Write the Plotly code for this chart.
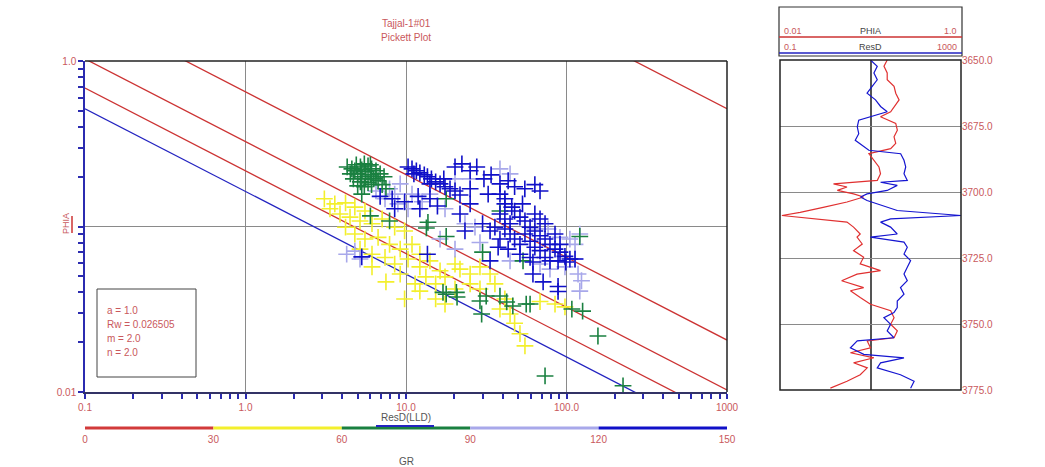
import numpy as np
import plotly.graph_objects as go

W, H = 1045, 467


def px(x):
    return x / W


def py(y):
    return 1 - y / H


# ---------------- data ----------------
title_lines = ["Tajjal-1#01", "Pickett Plot"]

# Pickett parameters
a_param = 1.0
rw_param = 0.026505
m_param = 2.0
n_param = 2.0
sw_values = [1.0, 0.75, 0.5, 0.25, 0.01]

x_ticks = [0.1, 1, 10, 100, 1000]
x_ticktext = ["0.1", "1.0", "10.0", "100.0", "1000"]
y_ticks = [0.01, 0.1, 1.0]
y_ticktext = ["0.01", "", "1.0"]

gr_edges = [0, 30, 60, 90, 120, 150]
gr_labels = ["0", "30", "60", "90", "120", "150"]

# Scatter points grouped by GR bin (ResD, PHIA)
yellow_resd = [3.6, 4.2, 4.8, 5.55, 3.88, 4.48, 5.17, 6.14, 7.1, 8.5, 9.8, 4.2, 4.8, 5.55, 6.7, 7.9,
               9.2, 10.9, 12.2, 5.17, 6.14, 7.4, 8.5, 10.3, 12.2, 14.1, 16.3, 13.3, 15.3, 17.5, 21.7,
               25.1, 28.9, 33.4, 35.8, 25.1, 11.4, 7.5, 6.14, 9.2, 20.2, 12.2, 9.8, 41.3, 44.5, 47.5,
               51.3, 55.1, 68.4, 84.8, 97.8, 38.5, 28.9, 20.2, 15.3, 17.5, 3.36, 3.1]
yellow_phia = [0.137, 0.139, 0.131, 0.124, 0.119, 0.114, 0.108, 0.104, 0.111, 0.099, 0.094, 0.099,
               0.090, 0.084, 0.086, 0.078, 0.073, 0.078, 0.068, 0.073, 0.068, 0.065, 0.0593, 0.0636,
               0.057, 0.062, 0.054, 0.0496, 0.045, 0.0496, 0.0553, 0.0516, 0.057, 0.0516, 0.045, 0.045,
               0.045, 0.0463, 0.057, 0.0516, 0.0593, 0.0407, 0.0365, 0.0365, 0.0296, 0.026, 0.0225,
               0.019, 0.0352, 0.034, 0.0327, 0.0317, 0.0419, 0.0419, 0.0365, 0.034, 0.128, 0.147]

purple_resd = [7.9, 8.5, 9.2, 7.4, 10.9, 12.6, 10.3, 6.5, 8.9, 14.1, 20.2, 25.1, 23.3, 26.9, 17.5,
               38.5, 44.5, 63.5, 76.8, 91.1, 105, 113, 121, 113, 118, 124, 121, 97.8, 78.9, 68.4,
               44.5, 4.27, 4.8, 5.17, 16.3, 28.9, 20.2]
purple_phia = [0.169, 0.157, 0.181, 0.147, 0.157, 0.141, 0.128, 0.164, 0.137, 0.157, 0.194, 0.194,
               0.104, 0.099, 0.128, 0.223, 0.208, 0.0966, 0.0966, 0.086, 0.084, 0.078, 0.090, 0.0636,
               0.0516, 0.047, 0.0407, 0.057, 0.0553, 0.0593, 0.062, 0.068, 0.071, 0.0636, 0.084,
               0.080, 0.073]

green_resd = [4.6, 4.9, 5.2, 5.5, 5.8, 6.1, 6.5, 6.9, 5.0, 5.3, 5.6, 6.0, 6.3, 4.7, 5.2, 5.8, 6.7,
              7.3, 4.5, 5.0, 5.5, 6.1, 7.1, 7.5, 5.3, 4.8, 5.6, 6.5, 4.3, 6.0,
              5.3, 6.0, 7.9, 13.7, 13.4, 17.8, 17.8, 30.0, 38.5, 53.6, 121, 17.0, 20.6, 17.8, 20.8,
              28.9, 29.6, 31.6, 38.5, 42.4, 46.3, 56.1, 59.3, 108, 126, 157, 73.5, 225]
green_phia = [0.223, 0.236, 0.229, 0.239, 0.232, 0.223, 0.217, 0.208, 0.208, 0.200, 0.214, 0.205,
              0.194, 0.194, 0.186, 0.184, 0.189, 0.200, 0.208, 0.176, 0.174, 0.179, 0.179, 0.169,
              0.220, 0.217, 0.194, 0.200, 0.229, 0.236,
              0.157, 0.116, 0.108, 0.106, 0.098, 0.147, 0.087, 0.070, 0.124, 0.062, 0.087, 0.040,
              0.040, 0.039, 0.0375, 0.0355, 0.0296, 0.038, 0.038, 0.035, 0.0331, 0.034, 0.034,
              0.0317, 0.0308, 0.0218, 0.0125, 0.0109]

blue_resd = [10.3, 10.9, 11.6, 12.2, 13.0, 13.6, 14.4, 15.3, 16.3, 17.5, 18.8, 20.2, 21.7, 11.2,
             14.1, 17.2, 20.2, 22.3, 25.1, 27.6, 30.6, 33.9, 38.5, 43.3, 47.5, 55, 63.5, 68.4, 38.5,
             32.5, 25.1, 6.9, 8.2, 9.8, 11.9, 14.1, 15.7, 8.5, 12.2, 21.7, 25.1, 30.0, 33.4, 41.3,
             23.3, 38.5, 41.3, 44.5, 47.5, 51.3, 55.1, 59.3, 63.5, 68.4, 73.5, 78.9, 84.8, 91.1,
             97.8, 105, 44.5, 47.5, 51.3, 55.1, 59.3, 63.5, 68.4, 41.3, 38.5, 35.8, 51.3, 59.3,
             73.5, 78.9, 88.6, 45.6, 53.2, 63.5, 73.5, 84.8, 68.4, 91.1, 99, 113, 43.3, 37.5, 13.6,
             33.4, 61.8, 71.5, 88.6, 88.6, 61.8, 5.3, 41.3]
blue_phia = [0.229, 0.223, 0.217, 0.211, 0.205, 0.200, 0.194, 0.186, 0.181, 0.174, 0.169, 0.164,
             0.155, 0.208, 0.181, 0.194, 0.229, 0.239, 0.217, 0.229, 0.194, 0.205, 0.181, 0.189,
             0.174, 0.169, 0.179, 0.164, 0.157, 0.157, 0.169, 0.152, 0.147, 0.141, 0.152, 0.147,
             0.133, 0.128, 0.128, 0.119, 0.137, 0.104, 0.094, 0.137, 0.094, 0.119, 0.111, 0.104,
             0.124, 0.114, 0.108, 0.099, 0.094, 0.088, 0.084, 0.078, 0.073, 0.070, 0.066, 0.0636,
             0.090, 0.084, 0.078, 0.090, 0.0815, 0.075, 0.0715, 0.0966, 0.084, 0.099, 0.068, 0.065,
             0.065, 0.062, 0.062, 0.131, 0.137, 0.119, 0.104, 0.090, 0.111, 0.078, 0.061, 0.0636,
             0.073, 0.075, 0.068, 0.062, 0.0516, 0.0463, 0.0434, 0.0405, 0.061, 0.0655, 0.147]

# Depth track curves
phia_depth = [3650.0, 3652.4, 3654.9, 3657.5, 3660.0, 3662.6, 3665.1, 3667.6, 3669.6, 3671.5,
              3674.0, 3676.6, 3679.1, 3681.6, 3683.6, 3685.5, 3688.0, 3690.5, 3693.1, 3695.6,
              3696.9, 3698.1, 3699.4, 3700.7, 3701.9, 3703.8, 3705.8, 3707.7, 3708.9, 3710.2,
              3711.4, 3713.3, 3715.9, 3717.1, 3719.7, 3722.2, 3724.7, 3727.2, 3729.8, 3731.1,
              3733.6, 3736.2, 3737.4, 3740.0, 3742.5, 3745.0, 3747.6, 3750.1, 3752.6, 3755.2,
              3756.4, 3759.0, 3760.9, 3762.8, 3764.7, 3766.6, 3769.2, 3771.7, 3774.3]
phia_curve = [0.153, 0.141, 0.153, 0.153, 0.182, 0.190, 0.207, 0.182, 0.167, 0.129,
              0.190, 0.198, 0.182, 0.190, 0.167, 0.096, 0.109, 0.124, 0.129, 0.119,
              0.039, 0.055, 0.043, 0.065, 0.084, 0.055, 0.030, 0.0167, 0.0105, 0.0255,
              0.055, 0.065, 0.077, 0.071, 0.081, 0.065, 0.084, 0.077, 0.129, 0.071,
              0.048, 0.084, 0.060, 0.077, 0.100, 0.167, 0.182, 0.167, 0.198, 0.182,
              0.092, 0.100, 0.060, 0.109, 0.065, 0.092, 0.077, 0.055, 0.036]

resd_depth = [3650.0, 3652.4, 3654.9, 3657.5, 3660.0, 3662.6, 3665.1, 3667.6, 3669.6, 3671.5,
              3672.8, 3675.3, 3677.9, 3680.4, 3682.9, 3684.2, 3685.5, 3688.0, 3690.5, 3693.1,
              3695.6, 3696.3, 3697.5, 3699.4, 3700.7, 3701.9, 3703.2, 3705.8, 3707.0, 3708.9,
              3709.6, 3710.2, 3711.4, 3713.3, 3715.9, 3717.1, 3719.0, 3720.9, 3723.5, 3726.0,
              3728.5, 3731.1, 3733.6, 3736.2, 3738.7, 3741.3, 3743.8, 3745.7, 3747.6, 3750.1,
              3752.6, 3755.2, 3756.4, 3759.0, 3761.5, 3762.8, 3764.7, 3766.6, 3769.2, 3771.7,
              3774.3]
resd_curve = [10, 14.1, 11.9, 14.1, 10.9, 8.4, 12.9, 16.7, 23.4, 10,
              5.5, 5.1, 5.5, 4.6, 7.1, 9.2, 46.4, 55, 60, 55,
              65, 16.7, 39, 23.4, 8.4, 6.0, 8.4, 23.4, 39, 1000,
              129, 27.8, 16.7, 27.8, 39, 10, 55, 65, 55, 77,
              65, 55, 65, 46, 55, 39, 39, 33, 19.8, 27.8,
              23.4, 33, 5.1, 3.6, 7.1, 55, 16.7, 14.1, 46, 92,
              77]

depth_ticks = [3650, 3675, 3700, 3725, 3750, 3775]

# ---------------- styling ----------------
RED_TXT = "#c9585c"
RED_LINE = "#cc3333"
BLUE_LINE = "#2323c0"
AXIS_BLUE = "#2b2bb0"
GRID = "#8a8a8a"
FONT = "Liberation Sans"
gr_colors = ["#d23a3a", "#f3ef2c", "#1a8040", "#a8a8ea", "#1010c8"]

fig = go.Figure()

# Sw lines
rt_ends = np.array([0.1, 1000.0])
for sw in sw_values:
    phi = (a_param * rw_param / (rt_ends * sw ** n_param)) ** (1.0 / m_param)
    fig.add_trace(go.Scatter(x=rt_ends, y=phi, mode="lines",
                             line=dict(color=BLUE_LINE if sw == 1.0 else RED_LINE, width=1.3),
                             xaxis="x", yaxis="y", hoverinfo="skip"))

groups = [(yellow_resd, yellow_phia, gr_colors[1]),
          (purple_resd, purple_phia, gr_colors[3]),
          (green_resd, green_phia, gr_colors[2]),
          (blue_resd, blue_phia, gr_colors[4])]
for xs, ys, col in groups:
    fig.add_trace(go.Scatter(x=xs, y=ys, mode="markers",
                             marker=dict(symbol="cross-thin", size=12, color=col,
                                         line=dict(color=col, width=1.6)),
                             xaxis="x", yaxis="y"))

# GR colour bar
for i in range(len(gr_edges) - 1):
    fig.add_trace(go.Scatter(x=[gr_edges[i], gr_edges[i + 1]], y=[0.5, 0.5], mode="lines",
                             line=dict(color=gr_colors[i], width=3),
                             xaxis="x4", yaxis="y4", hoverinfo="skip"))

# track curves
fig.add_trace(go.Scatter(x=phia_curve, y=phia_depth, mode="lines",
                         line=dict(color="#e03030", width=1.2), xaxis="x2", yaxis="y2"))
fig.add_trace(go.Scatter(x=resd_curve, y=resd_depth, mode="lines",
                         line=dict(color="#1515d0", width=1.2), xaxis="x3", yaxis="y2"))

main_x = [px(85), px(727)]
main_y = [py(392), py(61)]
trk_x = [px(780), px(961)]
trk_y = [py(390), py(60)]

minor_x = [m * d for d in [0.1, 1, 10, 100] for m in range(2, 10)]
minor_y = [m * d for d in [0.01, 0.1] for m in range(2, 10)]

tickfont = dict(family=FONT, size=10, color=RED_TXT)

fig.update_layout(
    width=W, height=H, margin=dict(l=0, r=0, t=0, b=0, autoexpand=False),
    paper_bgcolor="white", plot_bgcolor="white", showlegend=False,
    font=dict(family=FONT, size=10, color=RED_TXT),
    xaxis=dict(type="log", range=[-1, 3], domain=main_x, anchor="y", automargin=False,
               tickmode="array", tickvals=x_ticks, ticktext=x_ticktext,
               ticks="outside", ticklen=5, tickcolor=AXIS_BLUE, tickwidth=1.5,
               showline=True, linecolor="#333366", linewidth=1.5,
               showgrid=True, gridcolor=GRID, gridwidth=1.2, zeroline=False,
               tickfont=tickfont,
               minor=dict(tickmode="array", tickvals=minor_x, ticks="outside", ticklen=5,
                          tickcolor=AXIS_BLUE, tickwidth=1.5, showgrid=False)),
    yaxis=dict(type="log", range=[-2, 0], domain=main_y, anchor="x", automargin=False,
               tickmode="array", tickvals=y_ticks, ticktext=y_ticktext,
               ticks="outside", ticklen=5, tickcolor=AXIS_BLUE, tickwidth=1.5,
               showline=True, linecolor=AXIS_BLUE, linewidth=1.5,
               showgrid=True, gridcolor=GRID, gridwidth=1.2, zeroline=False,
               tickfont=tickfont,
               minor=dict(tickmode="array", tickvals=minor_y, ticks="outside", ticklen=5,
                          tickcolor=AXIS_BLUE, tickwidth=1.5, showgrid=False)),
    xaxis2=dict(type="log", range=[-2, 0], domain=trk_x, anchor="y2", automargin=False,
                tickmode="array", tickvals=[0.1], showticklabels=False, ticks="",
                showgrid=True, gridcolor="#555555", gridwidth=1.5, zeroline=False,
                showline=False),
    xaxis3=dict(type="log", range=[-1, 3], overlaying="x2", anchor="y2", automargin=False,
                showticklabels=False, ticks="", showgrid=False, zeroline=False, showline=False),
    yaxis2=dict(range=[3775, 3650], domain=trk_y, anchor="x2", side="right", automargin=False,
                tickmode="array", tickvals=depth_ticks, tickformat=".1f",
                ticks="", showgrid=True, gridcolor="#8a8a8a", gridwidth=1.2, zeroline=False,
                tickfont=dict(family=FONT, size=10, color=RED_TXT), showline=False),
    xaxis4=dict(range=[0, 150], domain=main_x, anchor="y4", automargin=False,
                tickmode="array", tickvals=gr_edges, ticktext=gr_labels,
                ticks="", showgrid=False, zeroline=False, showline=False,
                tickfont=tickfont),
    yaxis4=dict(range=[0, 1], domain=[py(432), py(424)], anchor="x4", visible=False,
                automargin=False),
)

shapes = []
# main plot top/right border
shapes.append(dict(type="line", xref="paper", yref="paper", x0=px(85), x1=px(727),
                   y0=py(61), y1=py(61), line=dict(color="#222222", width=1.5)))
shapes.append(dict(type="line", xref="paper", yref="paper", x0=px(727), x1=px(727),
                   y0=py(61), y1=py(392), line=dict(color="#222222", width=1.5)))
# parameter box
shapes.append(dict(type="rect", xref="paper", yref="paper", x0=px(97), x1=px(196),
                   y0=py(377), y1=py(289), line=dict(color="#444444", width=1),
                   fillcolor="white", layer="above"))
# PHIA style mark
shapes.append(dict(type="line", xref="paper", yref="paper", x0=px(72), x1=px(72),
                   y0=py(216), y1=py(233), line=dict(color=RED_LINE, width=1.5)))
# ResD(LLD) underline
shapes.append(dict(type="line", xref="paper", yref="paper", x0=px(376), x1=px(434),
                   y0=py(426), y1=py(426), line=dict(color=BLUE_LINE, width=2)))
# track box
shapes.append(dict(type="rect", xref="paper", yref="paper", x0=px(780), x1=px(961),
                   y0=py(390), y1=py(60), line=dict(color="#222222", width=1.5)))
# track header box
shapes.append(dict(type="rect", xref="paper", yref="paper", x0=px(779), x1=px(962),
                   y0=py(56), y1=py(7), line=dict(color="#333333", width=1.2)))
shapes.append(dict(type="line", xref="paper", yref="paper", x0=px(779), x1=px(962),
                   y0=py(37), y1=py(37), line=dict(color=RED_LINE, width=1.5)))
shapes.append(dict(type="line", xref="paper", yref="paper", x0=px(779), x1=px(962),
                   y0=py(53), y1=py(53), line=dict(color=BLUE_LINE, width=1.5)))
fig.update_layout(shapes=shapes)

ann = []


def txt(x, y, s, color=RED_TXT, size=10, xanchor="center", angle=0):
    ann.append(dict(x=px(x), y=py(y), xref="paper", yref="paper", text=s, showarrow=False,
                    xanchor=xanchor, yanchor="middle", textangle=angle,
                    font=dict(family=FONT, size=size, color=color)))


txt(406, 24, title_lines[0])
txt(406, 37, title_lines[1])
txt(66, 224, "PHIA", size=9, angle=-90)
txt(406, 417, "ResD(LLD)", color="#555555")
txt(406, 461, "GR", color="#555555")
param_lines = ["a = 1.0", "Rw = %g" % rw_param, "m = 2.0", "n = 2.0"]
for i, s in enumerate(param_lines):
    txt(105, 310 + i * 14, s, xanchor="left")
txt(782, 31, "0.01", xanchor="left", size=9)
txt(870, 31, "PHIA", color="#444444", size=9)
txt(959, 31, "1.0", xanchor="right", size=9)
txt(782, 47, "0.1", xanchor="left", size=9)
txt(870, 47, "ResD", color="#444444", size=9)
txt(959, 47, "1000", xanchor="right", size=9)
fig.update_layout(annotations=ann)

fig.write_html("out.html", config={"displayModeBar": False},
               post_script="document.body.style.margin='0px';"
                           "document.body.style.overflow='hidden';")
